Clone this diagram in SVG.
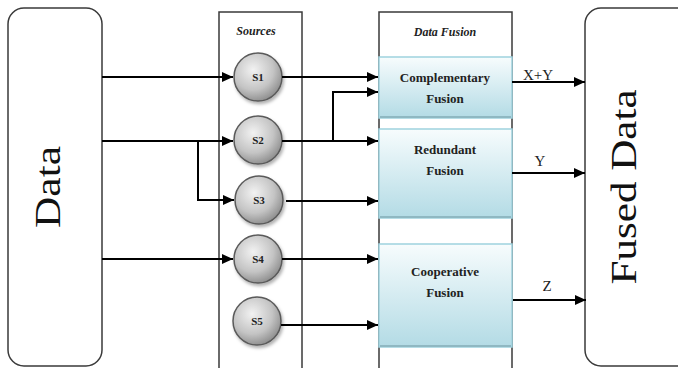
<svg xmlns="http://www.w3.org/2000/svg" width="678" height="368" viewBox="0 0 678 368">
  <defs>
    <style>
      .frame { fill: #ffffff; stroke: #3a3a3a; stroke-width: 1.5; }
      .big { font-family: "Liberation Serif", "Times New Roman", serif; font-size: 36px; fill: #111; }
      .title { font-family: "Liberation Serif", "Times New Roman", serif; font-size: 12px; font-weight: bold; font-style: italic; fill: #222; text-anchor: middle; }
      .fbox { fill: url(#fuseGrad); stroke: #9fd2de; stroke-width: 1.5; }
      .flabel { font-family: "Liberation Serif", "Times New Roman", serif; font-size: 13px; font-weight: bold; fill: #222; text-anchor: middle; }
      .src { fill: url(#srcGrad); stroke: #5a5a5a; stroke-width: 1.5; filter: url(#shadow); }
      .slabel { font-family: "Liberation Serif", "Times New Roman", serif; font-size: 11px; font-weight: bold; fill: #222; text-anchor: middle; }
      .edge { fill: none; stroke: #000; stroke-width: 2; }
      .out { font-family: "Liberation Serif", "Times New Roman", serif; font-size: 15px; fill: #222; text-anchor: middle; }
    </style>
    <linearGradient id="fuseGrad" x1="0" y1="0" x2="0" y2="1">
      <stop offset="0" stop-color="#f7fcfd"/>
      <stop offset="1" stop-color="#b3dbe5"/>
    </linearGradient>
    <radialGradient id="srcGrad" cx="0.4" cy="0.35" r="0.7">
      <stop offset="0" stop-color="#f2f2f2"/>
      <stop offset="0.6" stop-color="#c4c4c4"/>
      <stop offset="1" stop-color="#888888"/>
    </radialGradient>
    <filter id="shadow" x="-30%" y="-30%" width="160%" height="160%">
      <feDropShadow dx="1.5" dy="2.5" stdDeviation="1.5" flood-color="#000" flood-opacity="0.3"/>
    </filter>
    <marker id="arrow" markerUnits="userSpaceOnUse" markerWidth="11" markerHeight="10" refX="11" refY="5" orient="auto">
      <path d="M0,0 L11,5 L0,10 z" fill="#000"/>
    </marker>
  </defs>

  <!-- input data -->
  <g id="data">
    <rect class="frame" x="8" y="8" width="94" height="358" rx="16" ry="16"/>
    <text class="big" transform="translate(60,187) rotate(-90)" text-anchor="middle" textLength="82" lengthAdjust="spacingAndGlyphs">Data</text>
  </g>

  <!-- sources column -->
  <g id="sources">
    <rect class="frame" x="219" y="12" width="83" height="370"/>
    <text class="title" x="256" y="35">Sources</text>
  </g>
  <g id="s1"><circle class="src" cx="258" cy="77" r="24"/><text class="slabel" x="258" y="81">S1</text></g>
  <g id="s2"><circle class="src" cx="258" cy="140" r="24"/><text class="slabel" x="258" y="144">S2</text></g>
  <g id="s3"><circle class="src" cx="259" cy="200" r="24"/><text class="slabel" x="259" y="204">S3</text></g>
  <g id="s4"><circle class="src" cx="258" cy="259" r="24"/><text class="slabel" x="258" y="263">S4</text></g>
  <g id="s5"><circle class="src" cx="257" cy="321" r="24"/><text class="slabel" x="257" y="325">S5</text></g>

  <!-- data fusion column -->
  <g id="data-fusion">
    <rect class="frame" x="379" y="12" width="133" height="370"/>
    <text class="title" x="445" y="36">Data Fusion</text>
  </g>
  <g id="complementary">
    <rect class="fbox" x="379" y="57" width="133" height="61"/>
    <line x1="380" y1="117" x2="511" y2="117" stroke="#8fb8c2" stroke-width="2"/>
    <text class="flabel" x="445" y="82">Complementary</text>
    <text class="flabel" x="445" y="103">Fusion</text>
  </g>
  <g id="redundant">
    <rect class="fbox" x="379" y="129" width="133" height="89"/>
    <line x1="380" y1="217" x2="511" y2="217" stroke="#8fb8c2" stroke-width="2"/>
    <text class="flabel" x="445" y="154">Redundant</text>
    <text class="flabel" x="445" y="175">Fusion</text>
  </g>
  <g id="cooperative">
    <rect class="fbox" x="379" y="244" width="133" height="103"/>
    <line x1="380" y1="346" x2="511" y2="346" stroke="#8fb8c2" stroke-width="2"/>
    <text class="flabel" x="445" y="276">Cooperative</text>
    <text class="flabel" x="445" y="297">Fusion</text>
  </g>

  <!-- fused output -->
  <g id="fused-data">
    <rect class="frame" x="585" y="8" width="110" height="358" rx="16" ry="16"/>
    <text class="big" transform="translate(636,187) rotate(-90)" text-anchor="middle" textLength="195" lengthAdjust="spacingAndGlyphs">Fused Data</text>
  </g>

  <!-- connectors -->
  <g id="connectors">
    <path class="edge" d="M102,77 H233" marker-end="url(#arrow)"/>
    <path class="edge" d="M102,141 H233" marker-end="url(#arrow)"/>
    <path class="edge" d="M198,141 V200 H234" marker-end="url(#arrow)"/>
    <path class="edge" d="M102,259 H233" marker-end="url(#arrow)"/>

    <path class="edge" d="M282,77 H378" marker-end="url(#arrow)"/>
    <path class="edge" d="M282,141 H378" marker-end="url(#arrow)"/>
    <path class="edge" d="M333,141 V92 H378" marker-end="url(#arrow)"/>
    <path class="edge" d="M286,201 H378" marker-end="url(#arrow)"/>
    <path class="edge" d="M282,259 H378" marker-end="url(#arrow)"/>
    <path class="edge" d="M281,325 H378" marker-end="url(#arrow)"/>

    <path class="edge" d="M512,82 H585" marker-end="url(#arrow)"/>
    <path class="edge" d="M512,173 H585" marker-end="url(#arrow)"/>
    <path class="edge" d="M513,300 H586" marker-end="url(#arrow)"/>
    <text class="out" x="538" y="80">X+Y</text>
    <text class="out" x="540" y="166">Y</text>
    <text class="out" x="547" y="291">Z</text>
  </g>
</svg>
